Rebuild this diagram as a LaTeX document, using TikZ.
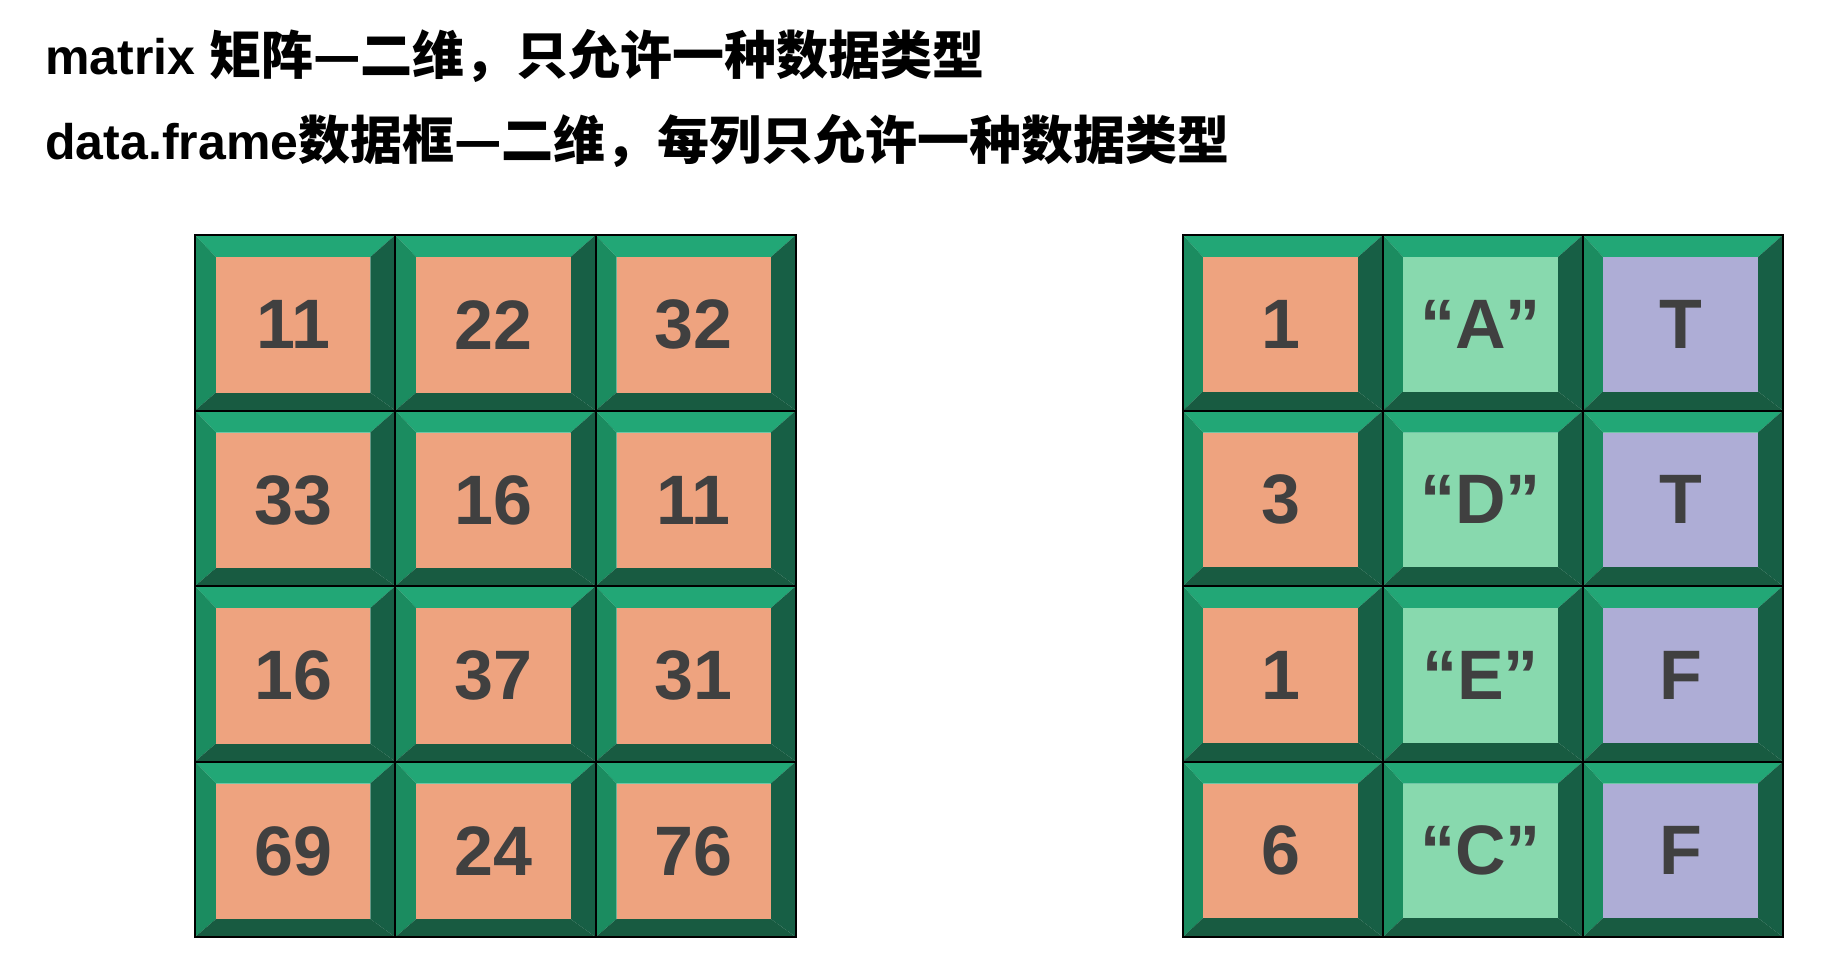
\documentclass[tikz,border=0pt]{standalone}
\usepackage{fontspec}
\setmainfont{Liberation Sans}
\newfontfamily\cjkfont{Noto Sans CJK SC}
\usepackage{tikz}
\usetikzlibrary{calc}

\definecolor{bevelTop}{HTML}{22A776}
\definecolor{bevelLeft}{HTML}{1B8C60}
\definecolor{bevelRight}{HTML}{175F45}
\definecolor{bevelBottom}{HTML}{185B41}
\definecolor{cellcol0}{HTML}{EEA37F}
\definecolor{cellcol1}{HTML}{88D9AE}
\definecolor{cellcol2}{HTML}{AEADD6}
\definecolor{cellText}{HTML}{404040}

\tikzset{
	title/.style={anchor=base west, inner sep=0pt, font=\bfseries\fontsize{25}{25}\selectfont},
	celltext/.style={text=cellText, inner sep=0pt, font=\bfseries\fontsize{35}{35}\selectfont},
	cellline/.style={black, line width=1pt}
}

\begin{document}
\begin{tikzpicture}[x=0.5pt,y=-0.5pt]
	
	\useasboundingbox (0,0) rectangle (1840,975);
	
	% Titles
	\node [title] (t1) at (45,74) {matrix {\cjkfont\fontsize{26}{26}\selectfont 矩阵—二维，只允许一种数据类型}};
	\node [title] (t2) at (45,159) {data.frame{\cjkfont\fontsize{26}{26}\selectfont 数据框—二维，每列只允许一种数据类型}};
	
	% Matrix (left)
	\foreach \r/\vals in {0/{11,22,32},1/{33,16,11},2/{16,37,31},3/{69,24,76}} {
		\foreach \v [count=\c from 0] in \vals {
			\pgfmathsetmacro{\xa}{195+\c*200.3}
			\pgfmathsetmacro{\ya}{235+\r*175.5}
			\pgfmathsetmacro{\xb}{\xa+200.3}
			\pgfmathsetmacro{\yb}{\ya+175.5}
			\pgfmathsetmacro{\xi}{\xa+21}
			\pgfmathsetmacro{\yi}{\ya+22}
			\pgfmathsetmacro{\xj}{\xb-25}
			\pgfmathsetmacro{\yj}{\yb-18}
			\fill [bevelTop] (\xa,\ya) -- (\xb,\ya) -- (\xj,\yi) -- (\xi,\yi) -- cycle;
			\fill [bevelLeft] (\xa,\ya) -- (\xi,\yi) -- (\xi,\yj) -- (\xa,\yb) -- cycle;
			\fill [bevelRight] (\xb,\ya) -- (\xb,\yb) -- (\xj,\yj) -- (\xj,\yi) -- cycle;
			\fill [bevelBottom] (\xa,\yb) -- (\xb,\yb) -- (\xj,\yj) -- (\xi,\yj) -- cycle;
			\fill [cellcol0] (\xi,\yi) rectangle (\xj,\yj);
			\draw [cellline] (\xa,\ya) rectangle (\xb,\yb);
			\node [celltext] (mat-\r-\c) at ($ (\xi,\yi)!0.5!(\xj,\yj) $) {\v};
		}
	}
	
	% Data frame (right)
	\foreach \r/\vals in {0/{1,“A”,T},1/{3,“D”,T},2/{1,“E”,F},3/{6,“C”,F}} {
		\foreach \v [count=\c from 0] in \vals {
			\pgfmathsetmacro{\xa}{1183+\c*200}
			\pgfmathsetmacro{\ya}{235+\r*175.5}
			\pgfmathsetmacro{\xb}{\xa+200}
			\pgfmathsetmacro{\yb}{\ya+175.5}
			\pgfmathsetmacro{\xi}{\xa+20}
			\pgfmathsetmacro{\yi}{\ya+22}
			\pgfmathsetmacro{\xj}{\xb-25}
			\pgfmathsetmacro{\yj}{\yb-19}
			\fill [bevelTop] (\xa,\ya) -- (\xb,\ya) -- (\xj,\yi) -- (\xi,\yi) -- cycle;
			\fill [bevelLeft] (\xa,\ya) -- (\xi,\yi) -- (\xi,\yj) -- (\xa,\yb) -- cycle;
			\fill [bevelRight] (\xb,\ya) -- (\xb,\yb) -- (\xj,\yj) -- (\xj,\yi) -- cycle;
			\fill [bevelBottom] (\xa,\yb) -- (\xb,\yb) -- (\xj,\yj) -- (\xi,\yj) -- cycle;
			\fill [cellcol\c] (\xi,\yi) rectangle (\xj,\yj);
			\draw [cellline] (\xa,\ya) rectangle (\xb,\yb);
			\node [celltext] (df-\r-\c) at ($ (\xi,\yi)!0.5!(\xj,\yj) $) {\v};
		}
	}
	
\end{tikzpicture}
\end{document}
